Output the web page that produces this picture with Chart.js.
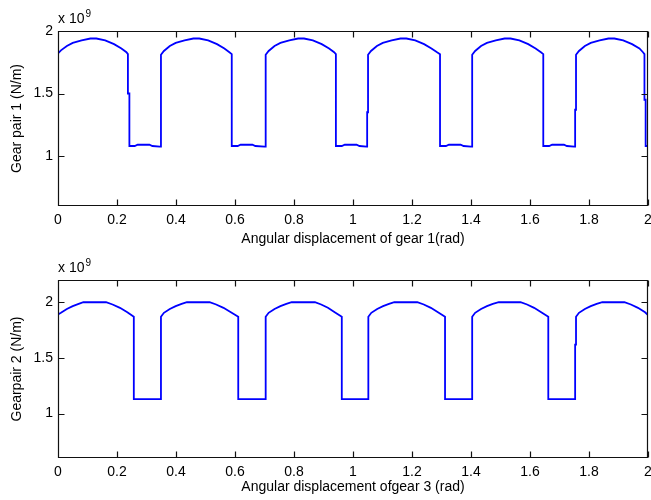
<!DOCTYPE html>
<html>
<head>
<meta charset="utf-8">
<script src="https://cdn.jsdelivr.net/npm/chart.js@4/dist/chart.umd.min.js"></script>
<style>
  html, body { margin: 0; padding: 0; background: #fff; }
  #wrap { position: relative; width: 651px; height: 500px; overflow: hidden; }
  .box { position: absolute; left: 0; width: 670px; height: 250px; }
  #b1 { top: 0; }
  #b2 { top: 250px; }
</style>
</head>
<body>
<div id="wrap">
  <div class="box" id="b1"><canvas id="c1" width="670" height="250"></canvas></div>
  <div class="box" id="b2"><canvas id="c2" width="670" height="250"></canvas></div>
</div>
<script>
// ---- Data ----
const xTickValues = [0, 0.2, 0.4, 0.6, 0.8, 1, 1.2, 1.4, 1.6, 1.8, 2];
const xTickLabels = ['0', '0.2', '0.4', '0.6', '0.8', '1', '1.2', '1.4', '1.6', '1.8', '2'];
const yTickValues = [1, 1.5, 2];
const yTickLabels = ['1', '1.5', '2'];
const exponentLabel = '9';

// Gear pair 1 stiffness (x 10^9 N/m) vs angular displacement of gear 1 (rad)
const gear1X = [
  0, 0.01, 0.03, 0.05, 0.08, 0.11, 0.13, 0.16, 0.19, 0.215, 0.232, 0.237,
  0.237, 0.242, 0.242, 0.26, 0.27, 0.31, 0.32, 0.345, 0.349,
  0.349, 0.359, 0.379, 0.399, 0.429, 0.459, 0.479, 0.509, 0.539, 0.564, 0.581, 0.589,
  0.589, 0.609, 0.619, 0.659, 0.669, 0.700, 0.704,
  0.704, 0.714, 0.734, 0.754, 0.784, 0.814, 0.834, 0.864, 0.894, 0.919, 0.936, 0.942,
  0.942, 0.962, 0.972, 1.012, 1.022, 1.046, 1.048,
  1.048, 1.051, 1.051, 1.061, 1.081, 1.101, 1.131, 1.161, 1.181, 1.211, 1.241, 1.266, 1.285, 1.295,
  1.295, 1.315, 1.325, 1.365, 1.375, 1.400, 1.404,
  1.404, 1.414, 1.434, 1.454, 1.484, 1.514, 1.534, 1.564, 1.594, 1.619, 1.637, 1.645,
  1.645, 1.665, 1.675, 1.715, 1.725, 1.750, 1.753,
  1.753, 1.756, 1.756, 1.766, 1.786, 1.806, 1.836, 1.866, 1.886, 1.916, 1.946, 1.971, 1.983, 1.988,
  1.988, 1.992, 1.992, 2.0
];
const gear1Y = [
  1.82, 1.845, 1.88, 1.905, 1.925, 1.94, 1.94, 1.925, 1.895, 1.86, 1.83, 1.815,
  1.50, 1.50, 1.08, 1.08, 1.09, 1.09, 1.08, 1.075, 1.075,
  1.81, 1.84, 1.88, 1.905, 1.925, 1.94, 1.94, 1.925, 1.895, 1.86, 1.83, 1.815,
  1.08, 1.08, 1.09, 1.09, 1.08, 1.075, 1.075,
  1.81, 1.84, 1.88, 1.905, 1.925, 1.94, 1.94, 1.925, 1.895, 1.86, 1.83, 1.815,
  1.08, 1.08, 1.09, 1.09, 1.08, 1.075, 1.075,
  1.35, 1.35, 1.81, 1.84, 1.88, 1.905, 1.925, 1.94, 1.94, 1.925, 1.895, 1.86, 1.83, 1.815,
  1.08, 1.08, 1.09, 1.09, 1.08, 1.075, 1.075,
  1.81, 1.84, 1.88, 1.905, 1.925, 1.94, 1.94, 1.925, 1.895, 1.86, 1.83, 1.815,
  1.08, 1.08, 1.09, 1.09, 1.08, 1.075, 1.075,
  1.37, 1.37, 1.81, 1.84, 1.88, 1.905, 1.925, 1.94, 1.94, 1.925, 1.895, 1.86, 1.83, 1.815,
  1.45, 1.45, 1.08, 1.08
];

// Gear pair 2 stiffness (x 10^9 N/m) vs angular displacement of gear 3 (rad)
const gear2X = [
  0, 0.01, 0.03, 0.05, 0.07, 0.086, 0.163, 0.185, 0.21, 0.235, 0.257,
  0.257, 0.349,
  0.349, 0.359, 0.379, 0.399, 0.419, 0.437, 0.514, 0.536, 0.561, 0.586, 0.611,
  0.611, 0.704,
  0.704, 0.714, 0.734, 0.754, 0.774, 0.792, 0.871, 0.892, 0.915, 0.938, 0.962,
  0.962, 1.052,
  1.052, 1.062, 1.082, 1.102, 1.122, 1.140, 1.218, 1.240, 1.264, 1.288, 1.312,
  1.312, 1.404,
  1.404, 1.414, 1.434, 1.454, 1.474, 1.494, 1.568, 1.590, 1.614, 1.638, 1.662,
  1.662, 1.753, 1.753, 1.756,
  1.756, 1.766, 1.786, 1.806, 1.826, 1.845, 1.920, 1.942, 1.966, 1.990, 2.0
];
const gear2Y = [
  1.89, 1.905, 1.94, 1.965, 1.985, 2.0, 2.0, 1.98, 1.95, 1.91, 1.87,
  1.13, 1.13,
  1.87, 1.905, 1.94, 1.965, 1.985, 2.0, 2.0, 1.98, 1.95, 1.91, 1.87,
  1.13, 1.13,
  1.87, 1.905, 1.94, 1.965, 1.985, 2.0, 2.0, 1.98, 1.95, 1.91, 1.87,
  1.13, 1.13,
  1.87, 1.905, 1.94, 1.965, 1.985, 2.0, 2.0, 1.98, 1.95, 1.91, 1.87,
  1.13, 1.13,
  1.87, 1.905, 1.94, 1.965, 1.985, 2.0, 2.0, 1.98, 1.95, 1.91, 1.87,
  1.13, 1.13, 1.62, 1.62,
  1.87, 1.905, 1.94, 1.965, 1.985, 2.0, 2.0, 1.98, 1.95, 1.91, 1.885
];

const FONT = "'Liberation Sans', Arial, Helvetica, sans-serif";

// Draws the MATLAB-style box, inward ticks on all four sides and the exponent label
const matlabAxes = {
  id: 'matlabAxes',
  afterDraw(chart) {
    const ctx = chart.ctx;
    const a = chart.chartArea;
    const xs = chart.scales.x, ys = chart.scales.y;
    const L = Math.round(a.left) + 0.5, R = Math.round(a.right) - 0.5;
    const T = Math.round(a.top) + 0.5, B = Math.round(a.bottom) - 0.5;
    const tl = 6;
    ctx.save();
    ctx.strokeStyle = '#111';
    ctx.lineWidth = 1.2;
    ctx.beginPath();
    ctx.rect(L, T, R - L, B - T);
    xs.ticks.forEach(t => {
      const px = Math.round(xs.getPixelForValue(t.value)) + 0.5;
      ctx.moveTo(px, B); ctx.lineTo(px, B - tl);
      ctx.moveTo(px, T); ctx.lineTo(px, T + tl);
    });
    ys.ticks.forEach(t => {
      const py = Math.round(ys.getPixelForValue(t.value)) + 0.5;
      ctx.moveTo(L, py); ctx.lineTo(L + tl, py);
      ctx.moveTo(R, py); ctx.lineTo(R - tl, py);
    });
    ctx.stroke();
    // exponent label "x 10^n"
    ctx.fillStyle = '#000';
    ctx.textBaseline = 'alphabetic';
    ctx.textAlign = 'left';
    ctx.font = '14px ' + FONT;
    ctx.fillText('x 10', a.left, a.top - 8);
    const w = ctx.measureText('x 10').width;
    ctx.font = '10px ' + FONT;
    ctx.fillText(exponentLabel, a.left + w + 1, a.top - 14);
    ctx.restore();
  }
};

function makeChart(id, xs, ys, yTitle, xTitle, yMax, padTop, xAxisH, xTitlePadBottom) {
  const pts = xs.map((x, i) => ({ x: x, y: ys[i] }));
  return new Chart(document.getElementById(id), {
    type: 'scatter',
    data: {
      datasets: [{
        data: pts,
        showLine: true,
        borderColor: '#0000ff',
        backgroundColor: '#0000ff',
        borderWidth: 1.8,
        pointRadius: 0,
        pointHoverRadius: 0,
        tension: 0
      }]
    },
    options: {
      responsive: false,
      animation: false,
      events: [],
      layout: { padding: { top: padTop, right: 22, bottom: 0, left: 0 } },
      plugins: { legend: { display: false }, tooltip: { enabled: false } },
      scales: {
        x: {
          type: 'linear',
          min: 0, max: 2,
          afterBuildTicks: s => { s.ticks = xTickValues.map(v => ({ value: v })); },
          afterFit: s => { s.height = xAxisH; },
          grid: { display: false, drawTicks: false },
          border: { display: false },
          ticks: {
            color: '#000',
            font: { family: FONT, size: 14 },
            padding: 6,
            maxRotation: 0,
            autoSkip: false,
            callback: (v, i) => xTickLabels[i]
          },
          title: {
            display: true,
            text: xTitle,
            color: '#000',
            font: { family: FONT, size: 14 },
            padding: { top: 0, bottom: xTitlePadBottom }
          }
        },
        y: {
          type: 'linear',
          min: 0.6, max: yMax,
          afterBuildTicks: s => { s.ticks = yTickValues.map(v => ({ value: v })); },
          afterFit: s => { s.width = 58; },
          grid: { display: false, drawTicks: false },
          border: { display: false },
          ticks: {
            color: '#000',
            font: { family: FONT, size: 14 },
            padding: 5,
            autoSkip: false,
            callback: (v, i) => yTickLabels[i]
          },
          title: {
            display: true,
            text: yTitle,
            color: '#000',
            font: { family: FONT, size: 14 },
            padding: { top: 9, bottom: 0 }
          }
        }
      }
    },
    plugins: [matlabAxes]
  });
}

makeChart('c1', gear1X, gear1Y, 'Gear pair 1 (N/m)', 'Angular displacement of gear 1(rad)', 2.0, 31, 44, 2);
makeChart('c2', gear2X, gear2Y, 'Gearpair 2 (N/m)', 'Angular displacement ofgear 3 (rad)', 2.2, 30, 42, 4);
</script>
</body>
</html>
